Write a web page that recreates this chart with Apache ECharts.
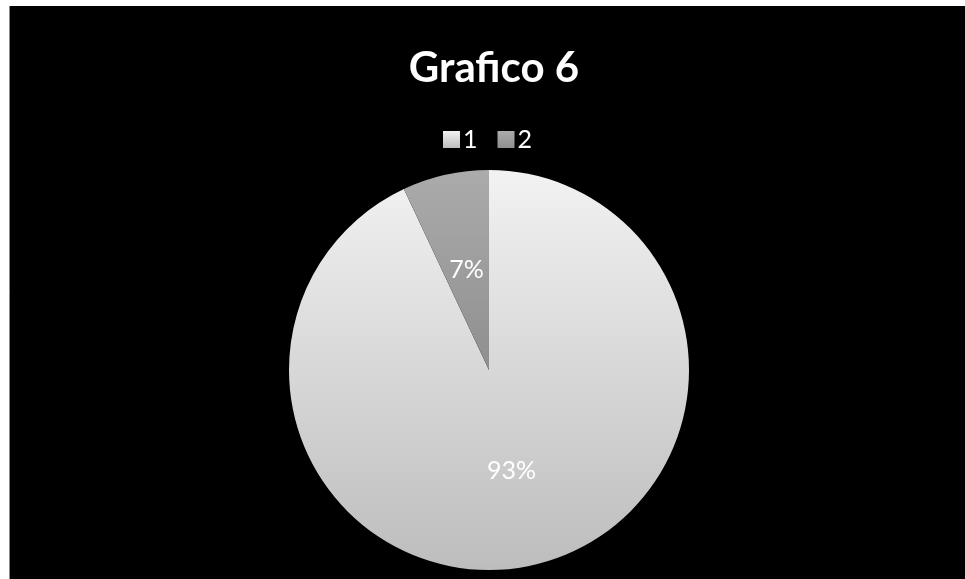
<!DOCTYPE html>
<html>
<head>
<meta charset="utf-8">
<script src="https://cdn.jsdelivr.net/npm/echarts@6/dist/echarts.min.js"></script>
<style>
html,body{margin:0;padding:0;background:#fff;}
#c{width:965px;height:579px;}
</style>
</head>
<body>
<div id="c"></div>
<script>
const titleText = "Grafico 6";
const categories = ["1", "2"];
const values = [93, 7];

const chart = echarts.init(document.getElementById('c'));
const grad = (a, b) => new echarts.graphic.LinearGradient(0, 0, 0, 1, [{offset:0,color:a},{offset:1,color:b}]);
const colors = [grad('#f2f2f2', '#bdbdbd'), grad('#ababab', '#8f8f8f')];

chart.setOption({
  backgroundColor: '#fff',
  animation: false,
  graphic: [
    {type:'rect', z:-10, shape:{x:10,y:6,width:955,height:573}, style:{fill:'#000'}},
    {type:'line', z:-10, shape:{x1:9.5,y1:6,x2:9.5,y2:579}, style:{stroke:'#888',lineWidth:1}}
  ],
  title: {
    text: titleText,
    left: 489, top: 42,
    textAlign: 'center',
    textStyle: {color:'#fff', fontFamily:'Lato', fontWeight:'bold', fontSize:42}
  },
  legend: {
    data: categories,
    top: 122,
    left: 438,
    itemWidth: 17, itemHeight: 17, itemGap: 20,
    icon: 'rect',
    textStyle: {color:'#fff', fontFamily:'Lato', fontSize:25, padding:[0,0,0,-2]}
  },
  series: [{
    type: 'pie',
    center: [489, 370],
    radius: [0, 200],
    startAngle: 90,
    clockwise: true,
    data: categories.map((c, i) => ({name: c, value: values[i], itemStyle:{color: colors[i]}})),
    label: {
      position: 'inside',
      formatter: p => Math.round(p.percent) + '%',
      color: '#fff', fontFamily: 'Lato', fontSize: 25
    },
    labelLine: {show:false},
    itemStyle: {borderWidth:0},
    emphasis: {disabled:true}
  }]
});
</script>
</body>
</html>
